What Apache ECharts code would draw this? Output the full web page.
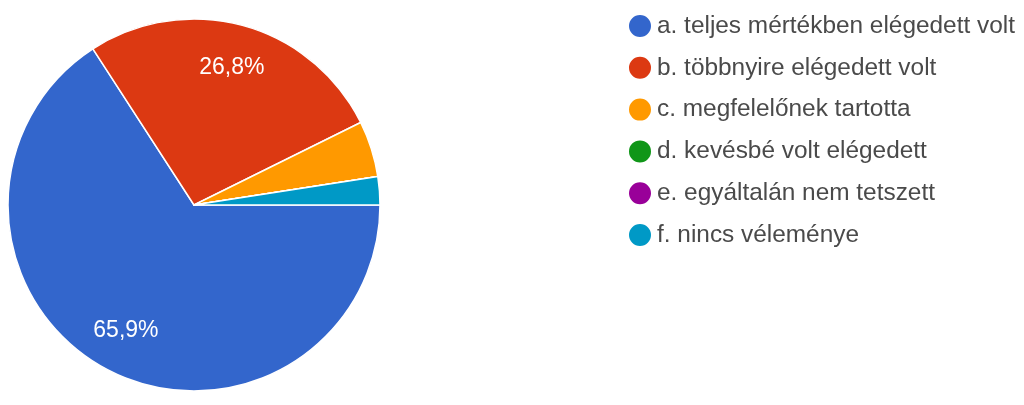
<!DOCTYPE html>
<html>
<head>
<meta charset="utf-8">
<script src="https://cdn.jsdelivr.net/npm/echarts@6/dist/echarts.min.js"></script>
<style>
html,body{margin:0;padding:0;background:#fff;}
#c{width:1024px;height:405px;}
</style>
</head>
<body>
<div id="c"></div>
<script>
var categories = [
  'a. teljes mértékben elégedett volt',
  'b. többnyire elégedett volt',
  'c. megfelelőnek tartotta',
  'd. kevésbé volt elégedett',
  'e. egyáltalán nem tetszett',
  'f. nincs véleménye'
];
var counts = [27, 11, 2, 0, 0, 1];
var colors = ['#3366cc', '#dc3912', '#ff9900', '#109618', '#990099', '#0099c6'];

var pieData = categories.map(function (name, i) {
  return { name: name, value: counts[i], itemStyle: { color: colors[i] } };
});
var total = counts.reduce(function (a, b) { return a + b; }, 0);

var chart = echarts.init(document.getElementById('c'));
var R = 186;
var C = [194, 205];
chart.setOption({
  animation: false,
  legend: {
    orient: 'vertical',
    left: 627,
    top: 13,
    padding: 0,
    icon: 'circle',
    itemWidth: 24,
    itemHeight: 24,
    itemGap: 15.8,
    data: categories,
    selectedMode: false,
    textStyle: {
      fontFamily: 'Liberation Sans, Arial, sans-serif',
      fontSize: 24.4,
      lineHeight: 24,
      color: '#4a4a4a'
    }
  },
  series: [
    {
      type: 'pie',
      center: C,
      radius: [0, R],
      startAngle: 0,
      clockwise: true,
      data: pieData,
      label: { show: false },
      labelLine: { show: false },
      itemStyle: { borderColor: '#fff', borderWidth: 1.5 },
      emphasis: { disabled: true }
    },
    {
      type: 'pie',
      center: C,
      radius: [R * 0.5, R],
      startAngle: 0,
      clockwise: true,
      silent: true,
      data: pieData.map(function (d) { return { name: d.name, value: d.value }; }),
      itemStyle: { color: 'rgba(0,0,0,0)' },
      labelLine: { show: false },
      label: {
        show: true,
        position: 'inside',
        color: '#fff',
        fontFamily: 'Liberation Sans, Arial, sans-serif',
        fontSize: 23,
        formatter: function (p) {
          var pct = p.value / total * 100;
          if (pct < 10) return '';
          return pct.toFixed(1).replace('.', ',') + '%';
        }
      },
      emphasis: { disabled: true }
    }
  ]
});
</script>
</body>
</html>
